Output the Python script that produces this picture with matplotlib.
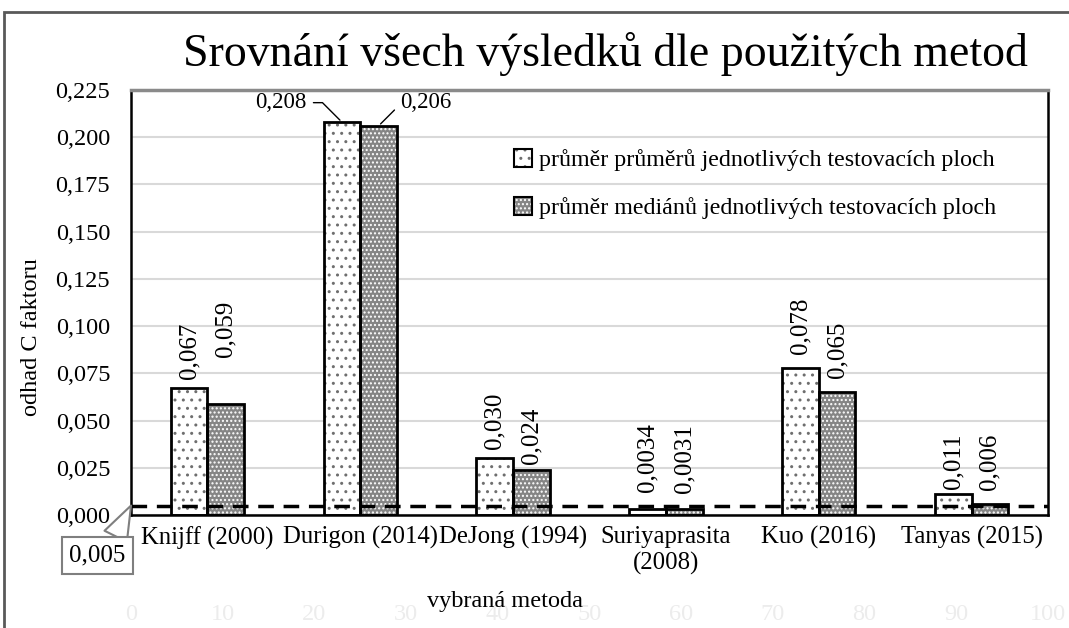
import numpy as np
import matplotlib
matplotlib.use('Agg')
import matplotlib.pyplot as plt
from matplotlib.patches import Patch, Rectangle
from matplotlib.legend_handler import HandlerTuple
from matplotlib.ticker import FuncFormatter, MultipleLocator

plt.rcParams['font.family'] = ['Liberation Serif', 'DejaVu Serif']
plt.rcParams['hatch.linewidth'] = 1.0

# data
methods = ['Knijff (2000)', 'Durigon (2014)', 'DeJong (1994)',
           'Suriyaprasita\n(2008)', 'Kuo (2016)', 'Tanyas (2015)']
mean_of_means = [0.067, 0.208, 0.030, 0.0034, 0.078, 0.011]
mean_of_medians = [0.059, 0.206, 0.024, 0.0031, 0.065, 0.006]
threshold = 0.005
series_names = ['průměr průměrů jednotlivých testovacích ploch',
                'průměr mediánů jednotlivých testovacích ploch']
helper_ticks = [0, 10, 20, 30, 40, 50, 60, 70, 80, 90, 100]

# gap (px) between bar top and its rotated label, None -> label with leader line
gap_means = [9, None, 9, 17, 14, 5]
gap_medians = [47, None, 6, 16, 14, 14]


def fmt(v):
    if v < 0.005:
        return f'{v:.4f}'.replace('.', ',')
    return f'{v:.3f}'.replace('.', ',')


W, H = 1069, 628
fig = plt.figure(figsize=(W / 100, H / 100), dpi=100)
fig.patch.set_facecolor('white')

# outer chart frame (cut off at the right and bottom)
fig.add_artist(Rectangle((4 / W, -0.1), 1.2, 1 - 12 / H + 0.1, transform=fig.transFigure,
                         fill=False, edgecolor='#595959', linewidth=2))

ax = fig.add_axes([131 / W, 1 - 515 / H, (1048 - 131) / W, (515 - 90) / H])

x = np.arange(len(methods))
w = 0.24
light_fc, light_hc = 'white', '#6e6e6e'
dark_fc, dark_hc = '#858585', 'white'

# hatch layer then black outline layer
ax.bar(x - w / 2, mean_of_means, w, color=light_fc, edgecolor=light_hc, hatch='..', linewidth=0, zorder=2)
ax.bar(x + w / 2, mean_of_medians, w, color=dark_fc, edgecolor=dark_hc, hatch='....', linewidth=0, zorder=2)
ax.bar(x - w / 2, mean_of_means, w, fill=False, edgecolor='black', linewidth=2, zorder=3)
ax.bar(x + w / 2, mean_of_medians, w, fill=False, edgecolor='black', linewidth=2, zorder=3)

ax.axhline(threshold, color='black', linestyle=(0, (4.5, 2.8)), linewidth=2.5, zorder=4)

ax.set_xlim(-0.5, len(methods) - 0.5)
ax.set_ylim(0, 0.225)
ax.yaxis.set_major_locator(MultipleLocator(0.025))
ax.yaxis.set_major_formatter(FuncFormatter(lambda v, p: f'{v:.3f}'.replace('.', ',')))
ax.set_xticks(x)
ax.set_xticklabels(methods)
ax.tick_params(axis='x', length=0, pad=8, labelsize=17.8)
ax.tick_params(axis='y', length=0, pad=15, labelsize=17.5)
ax.grid(axis='y', color='#d9d9d9', linewidth=1.5, zorder=0)
ax.set_axisbelow(True)
for s in ['left', 'right', 'bottom']:
    ax.spines[s].set_linewidth(1.8)
ax.spines['top'].set_color('#8a8a8a')
ax.spines['top'].set_linewidth(2.5)

# value labels
px2pt = 0.72
for i in range(len(methods)):
    if gap_means[i] is not None:
        ax.annotate(fmt(mean_of_means[i]), (x[i] - w / 2, mean_of_means[i]),
                    xytext=(0, gap_means[i] * px2pt), textcoords='offset points',
                    rotation=90, ha='center', va='bottom', fontsize=18)
    if gap_medians[i] is not None:
        ax.annotate(fmt(mean_of_medians[i]), (x[i] + w / 2, mean_of_medians[i]),
                    xytext=(0, gap_medians[i] * px2pt), textcoords='offset points',
                    rotation=90, ha='center', va='bottom', fontsize=18)

# Durigon labels with leader lines
ax.annotate(fmt(mean_of_means[1]), (x[1] - w / 2, mean_of_means[1]),
            xytext=(-44, 14), textcoords='offset points', ha='center', va='center', fontsize=16.5,
            arrowprops=dict(arrowstyle='-', color='black', lw=1,
                            connectionstyle='angle,angleA=0,angleB=135,rad=0',
                            shrinkA=3, shrinkB=2, relpos=(1, 0.5)))
ax.annotate(fmt(mean_of_medians[1]), (x[1] + w / 2, mean_of_medians[1]),
            xytext=(34, 17), textcoords='offset points', ha='center', va='center', fontsize=16.5,
            arrowprops=dict(arrowstyle='-', color='black', lw=1,
                            connectionstyle='angle,angleA=0,angleB=45,rad=0',
                            shrinkA=3, shrinkB=2, relpos=(0, 0.5)))

# callout for threshold line
ax.annotate(fmt(threshold), (0, threshold), xycoords=('axes fraction', 'data'),
            xytext=(-24, -36), textcoords='offset points', ha='center', va='center', fontsize=18,
            bbox=dict(boxstyle='square,pad=0.3', fc='white', ec='#7f7f7f', lw=1.5),
            arrowprops=dict(arrowstyle='wedge,tail_width=1.0', fc='white', ec='#7f7f7f', lw=1.5,
                            shrinkA=0, shrinkB=0, relpos=(0.65, 0.5)),
            annotation_clip=False, zorder=6)

# faint helper axis 0-100 at the bottom
ax2 = ax.twiny()
ax2.set_xlim(helper_ticks[0], helper_ticks[-1])
ax2.set_xticks(helper_ticks)
ax2.xaxis.set_ticks_position('bottom')
ax2.tick_params(axis='x', length=0, pad=64, labelsize=17.5, labelcolor='#ececec')
for s in ax2.spines.values():
    s.set_visible(False)

# legend
handles = [
    (Patch(facecolor=light_fc, edgecolor=light_hc, hatch='..', linewidth=0),
     Patch(fill=False, edgecolor='black', linewidth=1.5)),
    (Patch(facecolor=dark_fc, edgecolor=dark_hc, hatch='....', linewidth=0),
     Patch(fill=False, edgecolor='black', linewidth=1.5)),
]
fig.legend(handles, series_names, handler_map={tuple: HandlerTuple(ndivide=1)},
           loc='upper left', bbox_to_anchor=(514 / W, 1 - 149 / H), bbox_transform=fig.transFigure,
           frameon=False, fontsize=17.3, handlelength=0.75, handleheight=0.75,
           handletextpad=0.3, labelspacing=1.08, borderpad=0, borderaxespad=0)

fig.text(605 / W, 1 - 54 / H, 'Srovnání všech výsledků dle použitých metod',
         ha='center', va='center', fontsize=33)
fig.text(32 / W, 1 - 337 / H, 'odhad C faktoru', rotation=90, ha='center', va='center', fontsize=17.5)
fig.text(505 / W, 1 - 602 / H, 'vybraná metoda', ha='center', va='center', fontsize=17.5)

fig.savefig('out.png', dpi=100)
